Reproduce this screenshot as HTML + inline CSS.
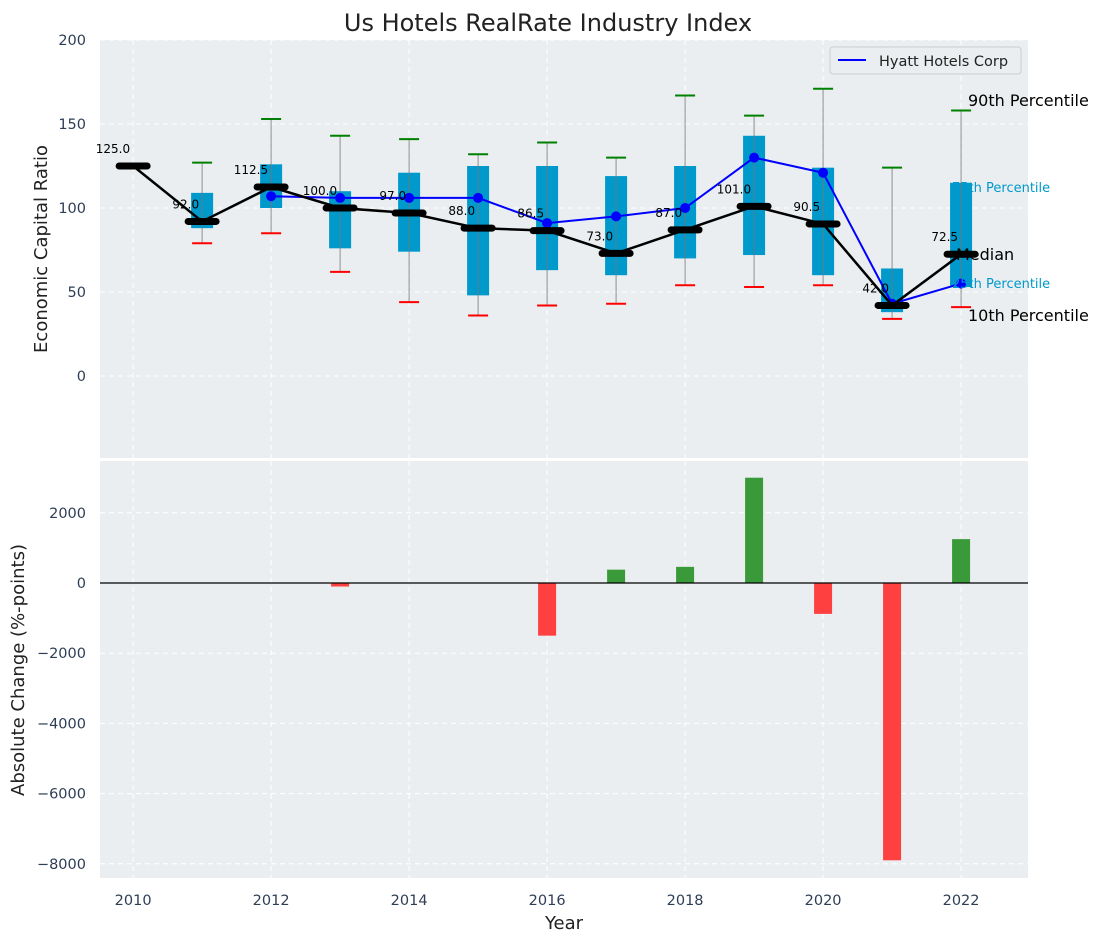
<!DOCTYPE html>
<html><head><meta charset="utf-8"><style>
body{margin:0;background:#fff;font-family:"DejaVu Sans","Liberation Sans",sans-serif}
svg text{font-family:"DejaVu Sans","Liberation Sans",sans-serif}
</style></head><body>
<svg id="c" width="1103" height="942" xmlns="http://www.w3.org/2000/svg"></svg>
<script>
const years=[2010,2011,2012,2013,2014,2015,2016,2017,2018,2019,2020,2021,2022];
const medians=[125,92,112.5,100,97,88,86.5,73,87,101,90.5,42,72.5];
const q25=[null,88,100,76,74,48,63,60,70,72,60,38,53];
const q75=[null,109,126,110,121,125,125,119,125,143,124,64,115];
const p10=[null,79,85,62,44,36,42,43,54,53,54,34,41];
const p90=[null,127,153,143,141,132,139,130,167,155,171,124,158];
const hyatt=[null,null,107,106,106,106,91,95,100,130,121,43,55];
const changes=[0,0,0,-100,0,0,-1500,380,460,3000,-880,-7900,1250];
const topTicks=[0,50,100,150,200];
const botTicks=[-8000,-6000,-4000,-2000,0,2000];
const xTicks=[2010,2012,2014,2016,2018,2020,2022];

const S=document.getElementById('c');const NS='http://www.w3.org/2000/svg';
function mk(t,a,p){const e=document.createElementNS(NS,t);for(const k in a)e.setAttribute(k,a[k]);(p||S).appendChild(e);return e;}
const fmt=v=>String(v).replace('-','\u2212');
const X=v=>100+(v-2009.52)*(928/13.45);
const Yt=v=>376-v*1.68;
const Yb=v=>583-v*0.0351;
let e=mk('rect',{x:100,y:40,width:928,height:418,fill:'#eaeef0'});


e=mk('rect',{x:100,y:461,width:928,height:417,fill:'#eaeef0'});


xTicks.forEach(t=>{[[40,458],[461,878]].forEach(r=>{mk('line',{x1:X(t),x2:X(t),y1:r[0],y2:r[1],stroke:'#fff','stroke-dasharray':'5,4','stroke-width':1});});
 e=mk('text',{x:X(t),y:905,'text-anchor':'middle','font-size':14.5,fill:'#2e3e55'});e.textContent=t;
 
 });
topTicks.forEach(t=>{mk('line',{x1:100,x2:1028,y1:Yt(t),y2:Yt(t),stroke:'#fff','stroke-dasharray':'5,4'});
 e=mk('text',{x:86,y:Yt(t)+5,'text-anchor':'end','font-size':14.5,fill:'#2e3e55'});e.textContent=fmt(t);
 
 });
botTicks.forEach(t=>{mk('line',{x1:100,x2:1028,y1:Yb(t),y2:Yb(t),stroke:'#fff','stroke-dasharray':'5,4'});
 e=mk('text',{x:86,y:Yb(t)+5,'text-anchor':'end','font-size':14.5,fill:'#2e3e55'});e.textContent=fmt(t);
 
 });
years.forEach((y,i)=>{if(q25[i]==null)return;const x=X(y);
 e=mk('rect',{x:x-11,y:Yt(q75[i]),width:22,height:Yt(q25[i])-Yt(q75[i]),fill:'#0099cc'});
 
 
 mk('line',{x1:x,x2:x,y1:Yt(p90[i]),y2:Yt(p10[i]),stroke:'#777','stroke-width':1,opacity:.8});
 e=mk('line',{x1:x-10,x2:x+10,y1:Yt(p90[i]),y2:Yt(p90[i]),stroke:'green','stroke-width':2});
 
 
 e=mk('line',{x1:x-10,x2:x+10,y1:Yt(p10[i]),y2:Yt(p10[i]),stroke:'red','stroke-width':2});
 
 });
let pts=[];years.forEach((y,i)=>{if(hyatt[i]!=null)pts.push(X(y)+','+Yt(hyatt[i]));});
e=mk('polyline',{points:pts.join(' '),fill:'none',stroke:'blue','stroke-width':2});


years.forEach((y,i)=>{if(hyatt[i]==null)return;e=mk('circle',{cx:X(y),cy:Yt(hyatt[i]),r:5,fill:'blue'});
 
 });
e=mk('polyline',{points:years.map((y,i)=>X(y)+','+Yt(medians[i])).join(' '),fill:'none',stroke:'#000','stroke-width':2.5});


years.forEach((y,i)=>{const x=X(y),yy=Yt(medians[i]);
 e=mk('line',{x1:x-14,x2:x+14,y1:yy,y2:yy,stroke:'#000','stroke-width':7,'stroke-linecap':'round'});
 
 
 e=mk('text',{x:x-3,y:yy-13,'text-anchor':'end','font-size':12,fill:'#000'});e.textContent=medians[i].toFixed(1);
 
 });
const ann=[['75th Percentile',952,192,13,'#0099cc'],['25th Percentile',952,288,13,'#0099cc']];
ann.forEach(a=>{e=mk('text',{x:a[1],y:a[2],'font-size':a[3],fill:a[4]});e.textContent=a[0];
 
 });
const big=[['90th Percentile',968,106],['Median',956,260],['10th Percentile',968,321]];
big.forEach(a=>{e=mk('text',{x:a[1],y:a[2],'font-size':16,fill:'#000'});e.textContent=a[0];
 
 });
years.forEach((y,i)=>{const v=changes[i];if(!v)return;const x=X(y);
 e=mk('rect',{x:x-9,y:Math.min(Yb(v),Yb(0)),width:18,height:Math.abs(Yb(v)-Yb(0)),fill:v>0?'#3a9a3a':'#ff4040'});
 
 });
mk('line',{x1:100,x2:1028,y1:Yb(0),y2:Yb(0),stroke:'#000','stroke-width':1.2});
const g=mk('g',{});


mk('rect',{x:830,y:47,width:191,height:27,rx:3,fill:'#eaeef0',stroke:'#ccc'},g);
mk('line',{x1:838,x2:866,y1:60,y2:60,stroke:'blue','stroke-width':2},g);
e=mk('text',{x:879,y:66,'font-size':14.5,fill:'#222'},g);e.textContent='Hyatt Hotels Corp';
e=mk('text',{x:548,y:31,'text-anchor':'middle','font-size':24,fill:'#222'});e.textContent='Us Hotels RealRate Industry Index';


e=mk('text',{x:564,y:929,'text-anchor':'middle','font-size':18,fill:'#222'});e.textContent='Year';


e=mk('text',{x:0,y:0,'text-anchor':'middle','font-size':18,fill:'#222',transform:'translate(47,249) rotate(-90)'});e.textContent='Economic Capital Ratio';


e=mk('text',{x:0,y:0,'text-anchor':'middle','font-size':18,fill:'#222',transform:'translate(24,670) rotate(-90)'});e.textContent='Absolute Change (%-points)';


</script>
</body></html>
